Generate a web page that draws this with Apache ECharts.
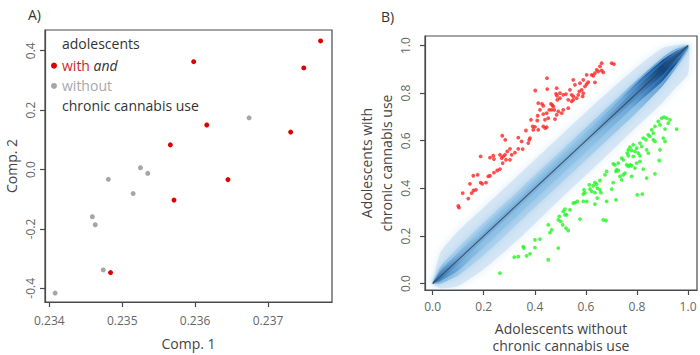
<!DOCTYPE html>
<html><head><meta charset="utf-8">
<script src="https://cdn.jsdelivr.net/npm/echarts@6/dist/echarts.min.js"></script>
<style>html,body{margin:0;padding:0;background:#fff}#c{width:700px;height:355px}</style>
</head><body><div id="c"></div>
<script>
// ---------- Panel A data ----------
const aTicksX = [0.234, 0.235, 0.236, 0.237];
const aTicksY = [-0.4, -0.2, 0.0, 0.2, 0.4];
const withComp1 = [0.23772, 0.23749, 0.23598, 0.23616, 0.23566, 0.23731, 0.23645, 0.23571, 0.23484];
const withComp2 = [0.433, 0.342, 0.363, 0.150, 0.083, 0.126, -0.034, -0.103, -0.347];
const withoutComp1 = [0.23674, 0.23525, 0.23535, 0.23481, 0.23515, 0.23459, 0.23463, 0.23474, 0.23408];
const withoutComp2 = [0.174, 0.006, -0.013, -0.033, -0.081, -0.159, -0.186, -0.338, -0.416];

// ---------- Panel B data ----------
const bTicks = [0.0, 0.2, 0.4, 0.6, 0.8, 1.0];
const redX = [0.4475,0.4017,0.4487,0.4855,0.4828,0.4867,0.4135,0.428,0.4632,0.4683,0.4565,0.4761,0.4201,0.433,0.4111,0.4855,0.3849,0.4096,0.4397,0.3915,0.4005,0.433,0.4409,0.4135,0.3939,0.3653,0.2725,0.381,0.3782,0.3352,0.2843,0.3485,0.3743,0.3027,0.2921,0.3352,0.3222,0.3524,0.1879,0.2244,0.2373,0.2831,0.2702,0.3093,
0.6617,0.655,0.7009,0.7099,0.6421,0.6484,0.6617,0.668,0.6355,0.6225,0.6288,0.603,0.5897,0.5767,0.5505,0.5572,0.6092,0.603,0.6355,0.4984,0.5114,0.5219,0.5376,0.5442,0.5505,0.5638,0.5834,0.5897,0.5873,0.5963,0.5701,0.574,0.5309,0.5442,0.5505,0.4984,0.4879,0.433,0.4722,0.4659,0.4918,0.5114,0.5051,0.4464,0.4526,0.5309,0.4464,0.4789,
0.24,0.2635,0.2764,0.287,0.3027,0.2741,0.2635,0.2529,0.24,0.2244,0.2177,0.159,0.1762,0.146,0.1879,0.1942,0.2087,0.1695,0.1175,0.1527,0.1394,0.1002,0.103,0.1597];
const redY = [0.863,0.811,0.817,0.821,0.797,0.789,0.758,0.755,0.755,0.750,0.730,0.730,0.730,0.712,0.705,0.709,0.688,0.685,0.688,0.660,0.658,0.660,0.653,0.646,0.646,0.643,0.621,0.611,0.604,0.613,0.604,0.597,0.590,0.566,0.555,0.566,0.550,0.565,0.534,0.529,0.537,0.541,0.527,0.541,
0.926,0.912,0.926,0.922,0.898,0.891,0.895,0.887,0.884,0.877,0.873,0.877,0.856,0.842,0.856,0.835,0.846,0.838,0.845,0.800,0.793,0.796,0.814,0.793,0.786,0.779,0.814,0.800,0.786,0.828,0.793,0.807,0.772,0.765,0.772,0.779,0.772,0.747,0.744,0.730,0.723,0.730,0.716,0.716,0.695,0.737,0.657,0.691,
0.523,0.541,0.534,0.520,0.520,0.506,0.481,0.475,0.466,0.453,0.450,0.453,0.457,0.419,0.424,0.419,0.424,0.394,0.380,0.380,0.357,0.326,0.319,0.391];
const greenX = [0.8966,0.9056,0.9162,0.9291,0.9225,0.8833,0.89,0.9554,0.8704,0.8575,0.9096,0.8442,0.8508,0.8637,0.8246,0.8352,0.8637,0.8704,0.8117,0.8183,0.7987,0.9029,0.9096,0.7854,0.7725,0.7659,0.7619,0.805,0.8117,0.8379,0.8442,0.89,0.7854,
0.7792,0.7921,0.8872,0.7659,0.7463,0.7596,0.7725,0.7987,0.8117,0.74,0.7267,0.7138,0.7071,0.7792,0.7659,0.7921,0.8246,0.7204,0.7267,0.7177,0.6813,0.6746,0.7529,0.7463,0.7334,0.7792,0.8704,0.8379,0.74,0.655,0.6355,0.7071,0.6132,0.6288,0.6421,0.6445,0.655,0.6159,0.6225,0.6355,0.5924,0.5963,0.5897,0.7009,0.659,0.8011,0.8207,0.6445,0.7177,0.6813,0.5662,0.5572,0.5505,0.6355,0.518,0.5114,0.5376,0.518,0.5247,0.4957,0.4918,0.5767,0.668,0.6785,0.5012,0.509,0.5219,0.5309,0.4526,0.4659,0.4593,0.4201,0.4918,0.4526,
0.4005,0.4005,0.3547,0.3575,0.381,0.368,0.3352,0.3195,0.2635,0.5897,0.603];
const greenY = [0.695,0.699,0.695,0.688,0.674,0.681,0.667,0.649,0.660,0.646,0.649,0.625,0.618,0.632,0.611,0.604,0.604,0.597,0.590,0.576,0.569,0.611,0.597,0.583,0.573,0.562,0.548,0.548,0.537,0.562,0.548,0.562,0.534,
0.559,0.555,0.517,0.537,0.520,0.499,0.499,0.506,0.513,0.527,0.506,0.499,0.503,0.495,0.492,0.485,0.481,0.478,0.475,0.471,0.471,0.457,0.464,0.457,0.450,0.450,0.461,0.443,0.436,0.433,0.424,0.424,0.415,0.411,0.418,0.401,0.394,0.397,0.387,0.382,0.394,0.382,0.376,0.397,0.382,0.373,0.376,0.359,0.352,0.345,0.345,0.340,0.338,0.334,0.313,0.303,0.310,0.289,0.289,0.282,0.268,0.271,0.268,0.265,0.261,0.247,0.233,0.223,0.247,0.226,0.214,0.187,0.149,0.100,
0.184,0.151,0.155,0.149,0.125,0.116,0.113,0.111,0.044,0.345,0.345];
const diagX = [0, 1];
const diagY = [0, 1];

// density cloud envelopes (x knots, lower / upper y)
const envX     = [0.00, 0.03, 0.10, 0.20, 0.35, 0.50, 0.65, 0.80, 0.90, 0.95, 1.00];
const faintHi  = [0.00, 0.13, 0.22, 0.32, 0.47, 0.62, 0.77, 0.91, 0.99, 1.00, 1.00];
const faintLo  = [0.00,-0.02,-0.01, 0.06, 0.20, 0.355,0.505,0.66, 0.76, 0.82, 0.88];
const lightHi  = [0.00, 0.07, 0.15, 0.255,0.405,0.555,0.705,0.855,0.95, 0.985,1.00];
const lightLo  = [0.00, 0.00, 0.035,0.12, 0.27, 0.42, 0.57, 0.72, 0.83, 0.90, 0.98];
const mediumHi = [0.00, 0.055,0.13, 0.235,0.385,0.535,0.685,0.845,0.94, 0.975,1.00];
const mediumLo = [0.00, 0.01, 0.055,0.155,0.305,0.455,0.605,0.755,0.85, 0.915,0.99];
const innerHi  = [0.005,0.045,0.115,0.215,0.365,0.515,0.665,0.825,0.925,0.965,1.00];
const innerLo  = [0.00, 0.015,0.08, 0.185,0.335,0.485,0.635,0.78, 0.875,0.935,0.995];

function diagGrad(stops) {
  return {type: 'linear', x: 0, y: 1, x2: 1, y2: 0,
    colorStops: stops.map(s => ({offset: s[0], color: s[1]}))};
}
const bands = [
  {x: envX, lo: faintLo, hi: faintHi, blur: 10, shadow: 'rgba(195,220,241,0.7)',
    fill: 'rgba(200,223,242,0.68)'},
  {x: envX, lo: lightLo, hi: lightHi, blur: 6, shadow: 'rgba(170,208,236,0.8)',
    fill: diagGrad([[0, '#7fb2da'], [0.1, '#aad0ec'], [0.55, '#aad0ec'], [0.76, '#93c3e7'], [0.88, '#5f9acd'], [1, '#8fbfe3']])},
  {x: envX, lo: mediumLo, hi: mediumHi, blur: 4, shadow: 'rgba(130,185,226,0.8)',
    fill: diagGrad([[0, '#3d7ebd'], [0.1, '#79b1dc'], [0.18, '#8fc1e5'], [0.6, '#8fc1e5'], [0.76, '#6ea8d8'], [0.85, '#2f6fb0'], [0.92, '#0f4b8c'], [1, '#4a88c4']])},
  {x: envX, lo: innerLo, hi: innerHi, blur: 3, shadow: 'rgba(110,170,218,0.6)',
    fill: diagGrad([[0, '#2f6eae'], [0.12, '#74acda'], [0.6, '#80b7e0'], [0.8, '#4a89c4'], [0.9, '#0c4684'], [1, '#3a78b6']])}
];

const zip = (xs, ys) => xs.map((v, i) => [v, ys[i]]);
const font = '"Open Sans", "Noto Sans", sans-serif';
const boxColor = '#4a4a4a';
const tickLab = {fontFamily: font, fontSize: 12, color: '#666'};

function mkAxis(extra) {
  return Object.assign({
    type: 'value', splitLine: {show: false},
    axisLine: {show: true, onZero: false, lineStyle: {color: boxColor, width: 1.2}},
    nameTextStyle: {fontFamily: font, fontSize: 14, color: '#444'}
  }, extra);
}
function ticks(vals) {
  return {show: true, inside: false, length: 5, customValues: vals, lineStyle: {color: boxColor, width: 1.2}};
}

const chart = echarts.init(document.getElementById('c'), null, {renderer: 'svg'});
chart.setOption({
  animation: false,
  backgroundColor: '#fff',
  title: [
    {text: 'A)', left: 23, top: 2, textStyle: {fontFamily: font, fontSize: 14, fontWeight: 'normal', color: '#333'}},
    {text: 'B)', left: 376, top: 4, textStyle: {fontFamily: font, fontSize: 14, fontWeight: 'normal', color: '#333'}}
  ],
  grid: [
    {left: 45, top: 30, width: 287, height: 272, show: true, borderColor: boxColor, borderWidth: 1.2, outerBoundsMode: 'none'},
    {left: 425, top: 36, width: 272, height: 254, show: true, borderColor: boxColor, borderWidth: 1.2, outerBoundsMode: 'none'}
  ],
  xAxis: [
    mkAxis({gridIndex: 0, min: 0.233941, max: 0.237877, name: 'Comp. 1', nameLocation: 'middle', nameGap: 34,
      axisTick: ticks(aTicksX),
      axisLabel: Object.assign({customValues: aTicksX, margin: 12, formatter: v => v.toFixed(3)}, tickLab)}),
    mkAxis({gridIndex: 1, min: -0.03, max: 1.035, name: 'Adolescents without\nchronic cannabis use', nameLocation: 'middle', nameGap: 29.5,
      nameTextStyle: {fontFamily: font, fontSize: 14, color: '#444', lineHeight: 17.5},
      axisTick: ticks(bTicks),
      axisLabel: Object.assign({customValues: bTicks, margin: 10, formatter: v => v.toFixed(1)}, tickLab)})
  ],
  yAxis: [
    mkAxis({gridIndex: 0, min: -0.446, max: 0.4697, name: 'Comp. 2', nameLocation: 'middle', nameGap: 27,
      axisTick: ticks(aTicksY),
      axisLabel: Object.assign({customValues: aTicksY, rotate: 90, margin: 9, formatter: v => v.toFixed(1)}, tickLab)}),
    mkAxis({gridIndex: 1, min: -0.027, max: 1.04, name: 'Adolescents with\nchronic cannabis use', nameLocation: 'middle', nameGap: 29,
      nameTextStyle: {fontFamily: font, fontSize: 14, color: '#444', lineHeight: 20},
      axisTick: ticks(bTicks),
      axisLabel: Object.assign({customValues: bTicks, rotate: 90, margin: 14, formatter: v => v.toFixed(1)}, tickLab)})
  ],
  legend: {
    orient: 'vertical', left: 51, top: 58.5, padding: 0, itemWidth: 6, itemHeight: 6, itemGap: 6,
    icon: 'circle', selectedMode: false,
    data: ['with', 'without'],
    formatter: n => n === 'with' ? '{r|with} {i|and}' : '{g|without}',
    textStyle: {fontFamily: font, fontSize: 14, lineHeight: 14.3,
      rich: {r: {fontFamily: font, fontSize: 14, color: '#cc1f1f'},
             i: {fontFamily: font, fontSize: 14, color: '#333', fontStyle: 'italic'},
             g: {fontFamily: font, fontSize: 14, color: '#a8a8a8'}}}
  },
  graphic: [
    {type: 'text', left: 62, top: 36, style: {text: 'adolescents', font: '14px ' + font, fill: '#333'}},
    {type: 'text', left: 62, top: 98, style: {text: 'chronic cannabis use', font: '14px ' + font, fill: '#333'}}
  ],
  series: [
    {name: 'with', type: 'scatter', xAxisIndex: 0, yAxisIndex: 0, data: zip(withComp1, withComp2),
      symbolSize: 5, itemStyle: {color: '#dd0000', opacity: 1}, z: 3},
    {name: 'without', type: 'scatter', xAxisIndex: 0, yAxisIndex: 0, data: zip(withoutComp1, withoutComp2),
      symbolSize: 5, itemStyle: {color: '#a6a6a6', opacity: 1}, z: 3},
    {name: 'density', type: 'custom', xAxisIndex: 1, yAxisIndex: 1, clip: true, z: 1,
      data: bands.map((b, i) => [b.x[0], b.lo[0], i]),
      renderItem: function (params, api) {
        const b = bands[params.dataIndex];
        const pts = [];
        for (let i = 0; i < b.x.length; i++) pts.push(api.coord([b.x[i], b.hi[i]]));
        for (let i = b.x.length - 1; i >= 0; i--) pts.push(api.coord([b.x[i], b.lo[i]]));
        return {type: 'polygon', shape: {points: pts, smooth: 0.2},
          style: {fill: b.fill, shadowBlur: b.blur, shadowColor: b.shadow}};
      }},
    {name: 'diag', type: 'line', xAxisIndex: 1, yAxisIndex: 1, data: zip(diagX, diagY), symbol: 'none',
      lineStyle: {color: '#3a434d', width: 1.1, opacity: 0.85}, z: 2},
    {name: 'up', type: 'scatter', xAxisIndex: 1, yAxisIndex: 1, data: zip(redX, redY),
      symbolSize: 3.8, itemStyle: {color: '#ff2424'}, z: 3},
    {name: 'down', type: 'scatter', xAxisIndex: 1, yAxisIndex: 1, data: zip(greenX, greenY),
      symbolSize: 3.8, itemStyle: {color: '#22f522'}, z: 3}
  ]
});
</script></body></html>
